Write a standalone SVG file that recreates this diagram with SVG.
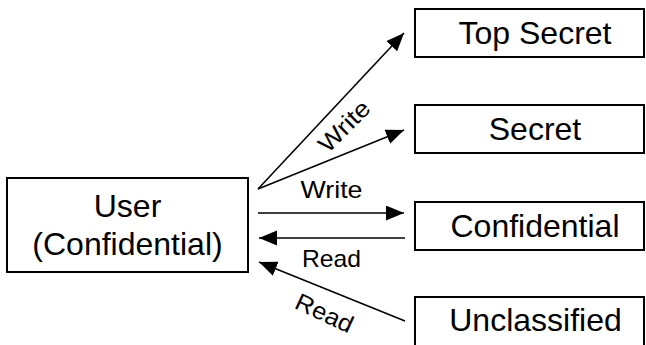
<svg xmlns="http://www.w3.org/2000/svg" width="646" height="345" viewBox="0 0 646 345">
<style>
.box{fill:#fff;stroke:#000;stroke-width:2}
.big{font-family:"Liberation Sans",Arial,Helvetica,sans-serif;font-size:32px;fill:#000;text-anchor:middle}
.lbl{font-family:"Liberation Sans",Arial,Helvetica,sans-serif;font-size:24px;fill:#000;text-anchor:middle}
.edge{stroke:#000;stroke-width:1.6;fill:none;marker-end:url(#ah)}
</style>
<defs>
<marker id="ah" markerUnits="userSpaceOnUse" markerWidth="19" markerHeight="16" refX="18" refY="7.5" orient="auto" viewBox="0 0 19 16">
<path d="M0,0 L18,7.5 L0,15 z" fill="#000"/>
</marker>
</defs>
<rect width="646" height="345" fill="#fff"/>
<g id="connectors">
<line class="edge" x1="258" y1="189" x2="404" y2="33"/>
<line class="edge" x1="258" y1="189" x2="404" y2="130"/>
<line class="edge" x1="258" y1="213" x2="404" y2="213"/>
<line class="edge" x1="405" y1="238" x2="259" y2="238"/>
<line class="edge" x1="405" y1="321" x2="259" y2="262"/>
<text class="lbl" transform="translate(350,132) rotate(-45)" textLength="62" lengthAdjust="spacingAndGlyphs">Write</text>
<text class="lbl" x="331.5" y="198" textLength="62" lengthAdjust="spacingAndGlyphs">Write</text>
<text class="lbl" x="331.5" y="266.5" textLength="59" lengthAdjust="spacingAndGlyphs">Read</text>
<text class="lbl" transform="translate(321,320.5) rotate(25)" textLength="61" lengthAdjust="spacingAndGlyphs">Read</text>
</g>
<g id="user">
<rect class="box" x="7" y="178" width="241" height="94"/>
<text class="big" x="127.5" y="216.5">User</text>
<text class="big" x="127.5" y="255">(Confidential)</text>
</g>
<g id="topsecret">
<rect class="box" x="415" y="9" width="229" height="48"/>
<text class="big" x="535" y="44">Top Secret</text>
</g>
<g id="secret">
<rect class="box" x="415" y="105" width="229" height="48"/>
<text class="big" x="535" y="139.5">Secret</text>
</g>
<g id="confidential">
<rect class="box" x="415" y="202" width="229" height="48"/>
<text class="big" x="535" y="236.5">Confidential</text>
</g>
<g id="unclassified">
<rect class="box" x="415" y="297" width="229" height="50"/>
<text class="big" x="535.5" y="331">Unclassified</text>
</g>
</svg>
